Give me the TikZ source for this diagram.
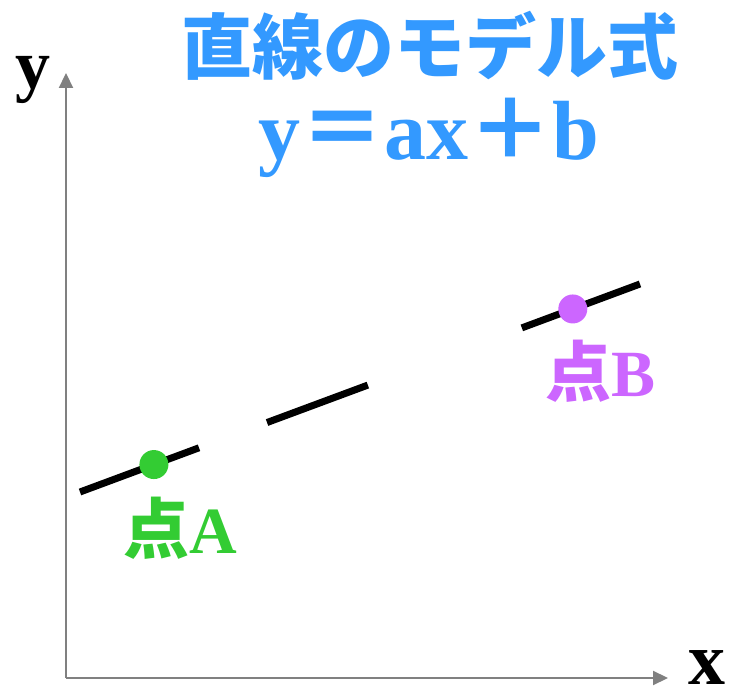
\documentclass[tikz,border=0pt]{standalone}
\usepackage{fontspec}
\setmainfont{Liberation Serif}
\newfontfamily\cjk{Noto Sans CJK JP}
\usetikzlibrary{arrows.meta, calc, positioning}
\definecolor{titleblue}{HTML}{3399FF}
\definecolor{ptgreen}{HTML}{33CC33}
\definecolor{ptpurple}{HTML}{CC66FF}
\definecolor{axisgray}{HTML}{808080}

\begin{document}
\begin{tikzpicture}[x=1pt, y=-1pt,
    axis/.style={axisgray, line width=2.2pt, -{Triangle[length=15pt, width=14pt]}},
    seg/.style={black, line width=7pt},
    pt/.style={circle, fill=#1, inner sep=0pt, minimum size=29pt},
    lbl/.style={text=#1, inner sep=0pt, font=\fontsize{66}{66}\selectfont\bfseries},
    axlbl/.style={inner sep=0pt, font=\fontsize{#1}{#1}\selectfont\bfseries}]
    \useasboundingbox (0,0) rectangle (732,695);

    % 座標軸
    \coordinate (O) at (66,678);
    \coordinate (xend) at (668,678);
    \coordinate (yend) at (66,73);
    \draw[axis] (O) -- (xend);
    \draw[axis] (O) -- (yend);
    \node[axlbl=74] (xlabel) at (707,668) {x};
    \node[axlbl=70] (ylabel) at (33,80) {y};

    % タイトル
    \node[titleblue, inner sep=0pt, font=\fontsize{71}{71}\selectfont\bfseries] (title) at (430,46) {\cjk 直線のモデル式};
    \node[titleblue, inner sep=0pt, font=\fontsize{84}{84}\selectfont\bfseries] (formula) at (429,138) {y{\cjk ＝}ax{\cjk ＋}b};

    % 直線 (途切れた線)
    \coordinate (L0) at (80,492);
    \coordinate (L1) at (640,284);
    \foreach \a/\b [count=\i] in {0/0.2125, 0.334/0.514, 0.789/1} {
        \coordinate (s\i a) at ($(L0)!\a!(L1)$);
        \coordinate (s\i b) at ($(L0)!\b!(L1)$);
        \draw[seg] (s\i a) -- (s\i b);
    }

    % 点A, 点B
    \node[pt=ptgreen] (A) at ($(L0)!0.132!(L1)$) {};
    \node[pt=ptpurple] (B) at ($(L0)!0.880!(L1)$) {};
    \node[lbl=ptgreen] (labelA) at (180,528) {{\cjk 点}A};
    \node[lbl=ptpurple] (labelB) at (601,371) {{\cjk 点}B};
\end{tikzpicture}
\end{document}
